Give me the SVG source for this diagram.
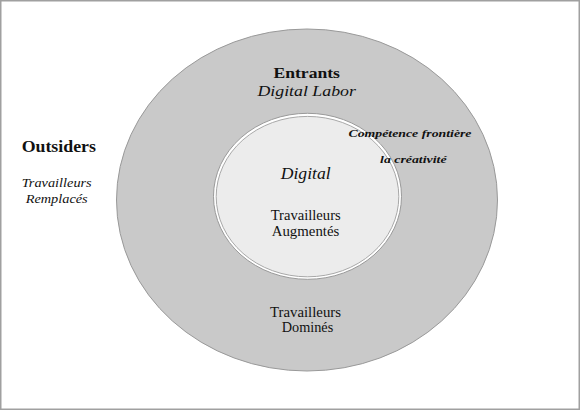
<svg xmlns="http://www.w3.org/2000/svg" width="580" height="410" viewBox="0 0 580 410">
<style>
text{fill:#111;text-anchor:middle}
.b{font-weight:bold}
.i{font-style:italic}
.bi{font-weight:bold;font-style:italic}
</style>
<rect x="0.75" y="0.75" width="578.5" height="408.5" fill="#fff" stroke="#a0a0a0" stroke-width="1.5"/>
<g id="outer-shape">
<ellipse cx="307" cy="200" rx="190.5" ry="171" fill="#c9c9c9" stroke="#999" stroke-width="1"/>
</g>
<g id="inner" font-family="Liberation Serif, Times New Roman, serif">
<ellipse cx="307.5" cy="196.3" rx="94" ry="83" fill="#fff" stroke="#9a9a9a" stroke-width="1"/>
<ellipse cx="307.5" cy="196.6" rx="91.3" ry="80.2" fill="#ececec" stroke="#a8a8a8" stroke-width="1"/>
<text class="i" x="305.7" y="179" font-size="16.5" textLength="50" lengthAdjust="spacingAndGlyphs">Digital</text>
<text x="305.7" y="220" font-size="14" textLength="70" lengthAdjust="spacingAndGlyphs">Travailleurs</text>
<text x="305.5" y="235.5" font-size="14" textLength="67.5" lengthAdjust="spacingAndGlyphs">Augmentés</text>
</g>
<g id="outer" font-family="Liberation Serif, Times New Roman, serif">
<text class="b" x="306.7" y="78" font-size="15.5" textLength="66.5" lengthAdjust="spacingAndGlyphs">Entrants</text>
<text class="i" x="306.7" y="96" font-size="15" textLength="98.5" lengthAdjust="spacingAndGlyphs">Digital Labor</text>
<text class="bi" x="410" y="136.5" font-size="10.5" textLength="123" lengthAdjust="spacingAndGlyphs">Compétence frontière</text>
<text class="bi" x="413.3" y="163" font-size="10.5" textLength="66.5" lengthAdjust="spacingAndGlyphs">la créativité</text>
<text x="305.5" y="316.5" font-size="14" textLength="71" lengthAdjust="spacingAndGlyphs">Travailleurs</text>
<text x="307.5" y="332" font-size="14" textLength="51.5" lengthAdjust="spacingAndGlyphs">Dominés</text>
</g>
<g id="outsiders" font-family="Liberation Serif, Times New Roman, serif">
<text class="b" x="58.8" y="151.5" font-size="16" textLength="74.3" lengthAdjust="spacingAndGlyphs">Outsiders</text>
<text class="i" x="56.7" y="186.5" font-size="12.5" textLength="70" lengthAdjust="spacingAndGlyphs">Travailleurs</text>
<text class="i" x="56.7" y="202.5" font-size="12.5" textLength="62" lengthAdjust="spacingAndGlyphs">Remplacés</text>
</g>
<g id="connectors"/>
</svg>
